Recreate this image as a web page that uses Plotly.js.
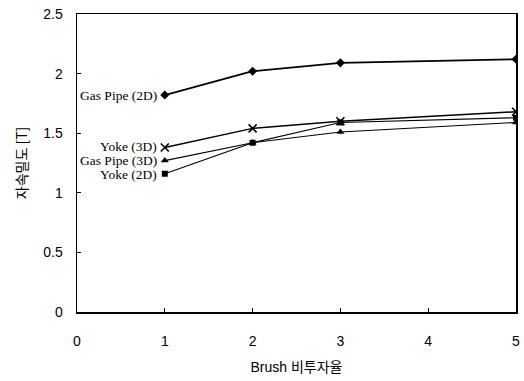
<!DOCTYPE html>
<html>
<head>
<meta charset="utf-8">
<script src="https://cdn.plot.ly/plotly-3.0.1.min.js"></script>
<style>html,body{margin:0;padding:0;background:#fff;}#chart{width:524px;height:381px;}</style>
</head>
<body>
<div id="chart"></div>
<script>
var xValues = [1, 2, 3, 5];
var seriesNames = ["Gas Pipe (2D)", "Yoke (3D)", "Gas Pipe (3D)", "Yoke (2D)"];
var gasPipe2D = [1.82, 2.02, 2.09, 2.12];
var yoke3D = [1.38, 1.54, 1.60, 1.68];
var gasPipe3D = [1.27, 1.42, 1.51, 1.59];
var yoke2D = [1.16, 1.42, 1.59, 1.63];
var xTicks = [0, 1, 2, 3, 4, 5];
var yTicks = [0, 0.5, 1, 1.5, 2, 2.5];
var yTickText = ["0", "0.5", "1", "1.5", "2", "2.5"];

var series = [gasPipe2D, yoke3D, gasPipe3D, yoke2D];
var symbols = ["diamond", "x-thin-open", "triangle-up", "square"];
var sizes = [7, 8, 7, 6];
var widths = [1.8, 1.4, 1.1, 1.1];

var traces = series.map(function (ys, i) {
  return {
    x: xValues, y: ys, type: "scatter", mode: "lines+markers", name: seriesNames[i],
    line: {color: "#000", width: widths[i]},
    marker: {symbol: symbols[i], size: sizes[i], color: "#000", line: {color: "#000", width: symbols[i] === "x-thin-open" ? 1.6 : 0}}
  };
});

var yShifts = [0, 1, 0, -1];
var annotations = series.map(function (ys, i) {
  return {
    x: xValues[0], y: ys[0], xref: "x", yref: "y", text: seriesNames[i],
    showarrow: false, xanchor: "right", yanchor: "middle", xshift: -6, yshift: yShifts[i],
    font: {family: "Liberation Serif, Times New Roman, serif", size: 13.5, color: "#000"}
  };
});

var layout = {
  width: 524, height: 381,
  margin: {l: 77, r: 8, t: 14, b: 69},
  paper_bgcolor: "#fff", plot_bgcolor: "#fff",
  showlegend: false,
  font: {family: "Liberation Sans, Arial, sans-serif", size: 14, color: "#000"},
  xaxis: {
    range: [0, 5], tickvals: xTicks, ticktext: xTicks.map(String),
    ticks: "inside", ticklen: 4, tickwidth: 1, tickcolor: "#000",
    showline: true, linecolor: "#000", linewidth: 1.5, mirror: true,
    showgrid: false, zeroline: false, ticklabelstandoff: 16,
    title: {text: "Brush 비투자율", font: {family: "Liberation Sans, Noto Sans CJK KR, sans-serif", size: 14}, standoff: 14}
  },
  yaxis: {
    range: [0, 2.5], tickvals: yTicks, ticktext: yTickText,
    ticks: "inside", ticklen: 4, tickwidth: 1, tickcolor: "#000",
    showline: true, linecolor: "#000", linewidth: 1.5, mirror: true,
    showgrid: false, zeroline: false, ticklabelstandoff: 10,
    title: {text: "자속밀도 [T]", font: {family: "Noto Sans CJK KR, sans-serif", size: 14}, standoff: 12}
  },
  annotations: annotations
};

Plotly.newPlot("chart", traces, layout, {staticPlot: true, displayModeBar: false});
</script>
</body>
</html>
